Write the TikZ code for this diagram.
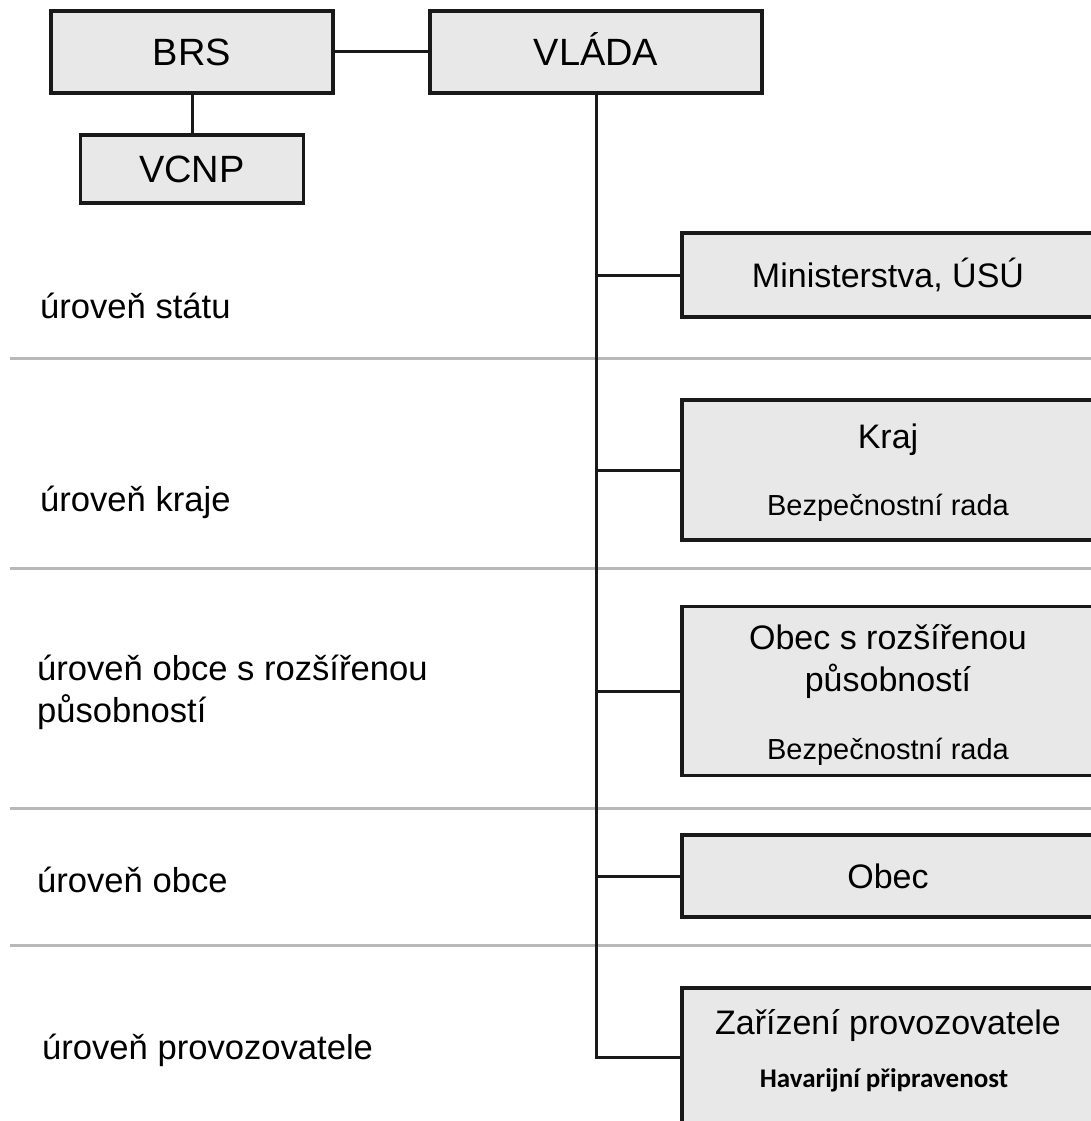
\documentclass[tikz,border=0pt]{standalone}
\usepackage{fontspec}
\setmainfont{Liberation Sans}
\newfontfamily\calibrifont{Carlito}
\usetikzlibrary{positioning}
\definecolor{boxfill}{HTML}{E8E8E8}
\definecolor{sepgray}{HTML}{B8B8B8}
\begin{document}
\begin{tikzpicture}[x=1pt,y=-1pt,
    every node/.style={font=\fontsize{34}{42}\selectfont},
    orgbox/.style={draw=black!90,line width=3.2pt,fill=boxfill,inner sep=0pt},
    topbox/.style={orgbox,font=\fontsize{38}{44}\selectfont,
        text height=27pt,text depth=0pt},
    rightbox/.style={orgbox,minimum width=412pt},
    subtext/.style={font=\fontsize{29}{34}\selectfont},
    levellabel/.style={anchor=west,align=left,inner sep=0pt,
        font=\fontsize{34.6}{42}\selectfont},
    link/.style={black!90,line width=3pt}]
    \clip (0,0) rectangle (1091,1121);
    \fill[white] (0,0) rectangle (1091,1121);
    % level separators
    \foreach \y in {358,568,808,945}
        \draw[sepgray,line width=3pt] (10,\y) -- (1091,\y);
    % top of the structure
    \node[topbox,minimum width=282pt,minimum height=82pt] (brs) at (192,52) {BRS};
    \node[topbox,minimum width=332pt,minimum height=82pt] (vlada) at (596,52) {VLÁDA};
    \node[topbox,minimum width=223pt,minimum height=68pt] (vcnp) at (192,169) {VCNP};
    % boxes on the right
    \node[rightbox,minimum height=84pt] (mini) at (888,275) {Ministerstva, ÚSÚ};
    \node[rightbox,minimum height=140pt] (kraj) at (888,470) {};
    \node (krajT) at (888,440) {Kraj};
    \node[subtext] (krajS) at (888,508) {Bezpečnostní rada};
    \node[rightbox,minimum height=169pt] (orp) at (888,691) {};
    \node[align=center] (orpT) at (888,662) {Obec s rozšířenou\\působností};
    \node[subtext] (orpS) at (888,752) {Bezpečnostní rada};
    \node[rightbox,minimum height=82pt] (obec) at (888,876) {Obec};
    \node[rightbox,minimum height=138pt] (zar) at (888,1057) {};
    \node (zarT) at (888,1025) {Zařízení provozovatele};
    \node[font=\calibrifont\bfseries\fontsize{27}{32}\selectfont] (zarS) at (884,1080) {Havarijní připravenost};
    % connectors
    \draw[link] (brs) -- (vlada);
    \draw[link] (brs) -- (vcnp);
    \foreach \n in {mini,kraj,orp,obec,zar}
        \draw[link] (vlada.south) |- (\n.west);
    % level labels
    \node[levellabel] (lstat) at (40,306) {úroveň státu};
    \node[levellabel] (lkraj) at (40,502) {úroveň kraje};
    \node[levellabel] (lorp) at (37,692) {úroveň obce s rozšířenou\\působností};
    \node[levellabel] (lobec) at (37,880) {úroveň obce};
    \node[levellabel] (lprov) at (42,1050) {úroveň provozovatele};
\end{tikzpicture}
\end{document}
